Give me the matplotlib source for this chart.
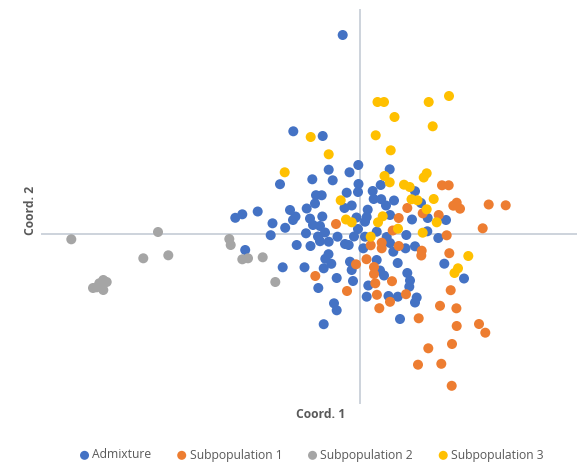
import matplotlib
matplotlib.use("Agg")
import matplotlib.pyplot as plt

# PCoA coordinates per group (Coord. 1, Coord. 2)
admix_x = [-0.173, -0.667, -0.373, -0.313, -0.477, -0.273, -0.105, -0.017, 0.297, -0.80,
           0.207, -0.015, -0.02, 0.127, -0.133, 0.137, 0.212, 0.26, 0.34, 0.55,
           0.61, 0.077, -0.44, -0.383, -0.45, -0.533, -0.155, -0.083, -0.70, -1.023,
           -1.177, -1.247, -0.645, -0.67, -0.875, -0.748, -0.893, -0.50, -0.47, -0.40,
           -0.377, -0.54, -0.42, -0.35, -0.225, -0.633, -0.495, -0.40, -0.313, -0.15,
           -0.113, -0.06, -0.315, -0.347, -0.287, -0.363, -1.148, -0.773, -0.555, -0.233,
           -0.417, -0.26, -0.233, -0.363, -0.10, -0.07, -0.083, -0.035, 0.067, 0.05,
           -0.02, 0.05, 0.167, 0.267, 0.30, 0.333, 0.463, 0.455, 0.55, 0.673,
           0.783, 0.033, 0.30, 0.52, 0.677, 0.86, 0.167, 0.20, 0.24, 0.377,
           0.473, 0.50, 0.493, 0.083, 0.067, 0.285, 0.378, 0.567, 0.55, 0.843,
           1.04, 0.40]
admix_y = [1.99, 1.027, 0.98, 0.643, 0.547, 0.537, 0.617, 0.69, 0.647, 0.498,
           0.49, 0.50, 0.42, 0.43, 0.413, 0.35, 0.348, 0.285, 0.335, 0.428,
           0.31, 0.243, 0.388, 0.387, 0.305, 0.255, 0.26, 0.285, 0.24, 0.225,
           0.197, 0.162, 0.175, 0.14, 0.107, 0.062, -0.012, 0.154, 0.09, 0.08,
           0.175, 0.007, -0.025, 0.015, -0.027, -0.11, -0.12, -0.072, -0.077, -0.10,
           -0.11, -0.025, -0.202, -0.248, -0.298, -0.343, -0.16, -0.333, -0.333, -0.44,
           -0.54, -0.693, -0.763, -0.902, -0.277, -0.47, -0.36, 0.165, 0.17, 0.123,
           0.05, -0.027, 0.023, -0.03, -0.09, -0.177, -0.01, -0.143, -0.123, 0.027,
           -0.04, -0.143, 0.19, 0.145, 0.16, 0.14, -0.26, -0.365, -0.415, -0.29,
           -0.39, -0.465, -0.527, -0.515, -0.627, -0.62, -0.627, -0.635, -0.685, -0.297,
           -0.445, -0.85]

sub1_x = [0.82, 0.887, 0.967, 0.933, 1.0, 1.287, 1.457, 0.473, -0.24, 0.387,
          0.787, 0.627, 0.217, 0.217, 0.107, 0.387, 0.327, 0.867, 1.227, 0.617,
          0.613, 0.893, 0.065, -0.04, 0.14, 0.14, -0.447, 0.32, 0.153, -0.13,
          0.169, 0.46, 0.907, 0.30, 0.193, 0.80, 0.964, 0.587, 0.967, 1.19,
          1.253, 0.92, 0.683, 0.58, 0.813, 0.917]
sub1_y = [0.487, 0.487, 0.313, 0.283, 0.253, 0.295, 0.287, 0.26, 0.10, 0.16,
          0.19, 0.207, -0.087, -0.143, -0.113, -0.12, 0.035, -0.013, 0.057, -0.167,
          -0.215, -0.192, -0.252, -0.303, -0.33, -0.40, -0.42, -0.472, -0.493, -0.57,
          -0.608, -0.602, -0.562, -0.678, -0.742, -0.718, -0.743, -0.843, -0.92, -0.90,
          -0.987, -1.10, -1.143, -1.307, -1.298, -1.518]

sub2_x = [-2.887, -2.02, -2.167, -1.917, -2.633, -2.567, -2.607, -2.567, -2.533, -2.67,
          -1.307, -1.293, -1.177, -1.12, -0.973, -0.847]
sub2_y = [-0.053, 0.02, -0.243, -0.213, -0.533, -0.56, -0.493, -0.46, -0.48, -0.54,
          -0.05, -0.11, -0.253, -0.243, -0.233, -0.48]

sub3_x = [0.175, 0.24, 0.687, 0.89, 0.345, 0.727, 0.157, -0.493, -0.313, 0.307,
          0.245, 0.297, 0.637, 0.667, 0.44, 0.497, -0.193, 0.515, 0.575, 0.737,
          0.667, -0.753, -0.14, -0.083, 0.227, 0.18, 0.38, 0.107, 0.767, 0.627,
          1.083, 0.98, 0.945]
sub3_y = [1.32, 1.32, 1.32, 1.38, 1.17, 1.077, 0.987, 0.97, 0.797, 0.837,
          0.58, 0.517, 0.565, 0.607, 0.493, 0.47, 0.337, 0.347, 0.337, 0.35,
          0.247, 0.617, 0.145, 0.117, 0.177, 0.117, 0.053, -0.027, 0.117, 0.013,
          -0.22, -0.343, -0.39]

groups = [
    ("Admixture", admix_x, admix_y, "#4472C4"),
    ("Subpopulation 1", sub1_x, sub1_y, "#ED7D31"),
    ("Subpopulation 2", sub2_x, sub2_y, "#A5A5A5"),
    ("Subpopulation 3", sub3_x, sub3_y, "#FFC000"),
]

plt.rcParams["font.family"] = ["Open Sans", "DejaVu Sans"]
text_col = "#595959"
axis_col = "#cdd3dc"

fig = plt.figure(figsize=(5.77, 4.63), dpi=100)
ax = fig.add_axes([42 / 577, 60 / 463, 535 / 577, 393 / 463])

for name, xs, ys, col in groups:
    ax.scatter(xs, ys, s=52, color=col, edgecolors="none", label=name, zorder=3)

ax.set_xlim(-3.18, 2.17)
ax.set_ylim(-1.69, 2.24)

# axes cross at the origin, no ticks
for side in ["top", "right"]:
    ax.spines[side].set_visible(False)
ax.spines["left"].set_position(("data", 0))
ax.spines["bottom"].set_position(("data", 0))
ax.spines["left"].set_color(axis_col)
ax.spines["bottom"].set_color(axis_col)
ax.spines["left"].set_linewidth(1.4)
ax.spines["bottom"].set_linewidth(1.4)
ax.set_xticks([])
ax.set_yticks([])

fig.text(321 / 577, 1 - 414 / 463, "Coord. 1", ha="center", va="center",
         fontsize=8.7, fontweight="bold", color=text_col)
fig.text(31 / 577, 1 - 210 / 463, "Coord. 2", ha="center", va="center",
         rotation=90, fontsize=8.7, fontweight="bold", color=text_col)

leg = fig.legend(loc="center", bbox_to_anchor=(312 / 577, 1 - 455 / 463), ncol=4,
                 frameon=False, fontsize=8.7, handlelength=0.7, handletextpad=0.3,
                 columnspacing=2.15, markerscale=0.9, borderaxespad=0, borderpad=0)
for t in leg.get_texts():
    t.set_color(text_col)

fig.savefig("out.png", dpi=100)
